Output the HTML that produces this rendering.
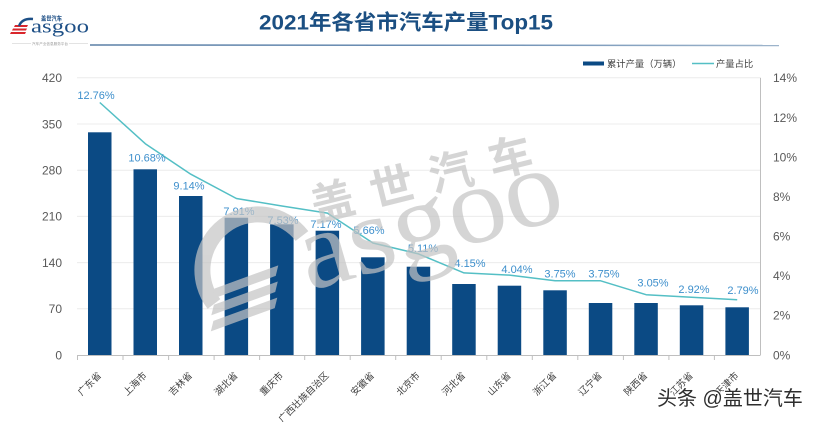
<!DOCTYPE html>
<html><head><meta charset="utf-8">
<style>
html,body{margin:0;padding:0;background:#fff;}
svg{display:block;font-family:"Liberation Sans","Noto Sans CJK SC",sans-serif;}
</style></head>
<body>
<svg width="820" height="422" viewBox="0 0 820 422" xmlns="http://www.w3.org/2000/svg">
<defs>
<linearGradient id="tl" x1="0" x2="1" y1="0" y2="0">
<stop offset="0" stop-color="#5a7fa6"/>
<stop offset="0.5" stop-color="#6a8db3"/>
<stop offset="1" stop-color="#9db4cb"/>
</linearGradient>
</defs>
<rect width="820" height="422" fill="#fff"/>

<!-- logo -->
<g>
<polygon points="15,25 28,25 27,27 14,27" fill="#d9262c"/>
<polygon points="13,28.5 27,28.5 26,30.5 12,30.5" fill="#d9262c"/>
<polygon points="11,32 26,32 25,34 10,34" fill="#d9262c"/>
<path d="M19,26 Q22,18 33,19" fill="none" stroke="#1d4f86" stroke-width="2.4"/>
<text x="41" y="20.5" font-size="6.5" font-weight="bold" fill="#1d4f86" textLength="21" lengthAdjust="spacingAndGlyphs">盖世汽车</text>
<text x="31" y="32.5" font-family="Liberation Serif, serif" font-size="19" fill="#1d4f86" textLength="58" lengthAdjust="spacingAndGlyphs">asgoo</text>
<line x1="12" y1="43.5" x2="88" y2="43.5" stroke="#c8c8c8" stroke-width="0.6"/>
<rect x="31" y="41.5" width="38" height="4" fill="#fff"/>
<text x="32" y="45" font-size="3.6" fill="#999" textLength="36" lengthAdjust="spacingAndGlyphs">汽车产业信息服务平台</text>
</g>

<!-- title -->
<text x="406" y="29.5" text-anchor="middle" font-size="21" font-weight="bold" fill="#1b4f82" textLength="294" lengthAdjust="spacingAndGlyphs">2021年各省市汽车产量Top15</text>
<line x1="90" y1="45" x2="779" y2="45.5" stroke="url(#tl)" stroke-width="1.5"/>

<!-- legend -->
<rect x="583" y="61.5" width="21" height="4" fill="#0b4a84"/>
<text x="607" y="67" font-size="9.3" fill="#404040">累计产量（万辆）</text>
<line x1="692" y1="63.5" x2="714" y2="63.5" stroke="#54bfc5" stroke-width="1.5"/>
<text x="716" y="67" font-size="9.3" fill="#404040">产量占比</text>

<!-- gridlines -->
<g stroke="#ececec" stroke-width="1">
<line x1="77" y1="77.8" x2="760" y2="77.8"/>
<line x1="77" y1="124" x2="760" y2="124"/>
<line x1="77" y1="170.2" x2="760" y2="170.2"/>
<line x1="77" y1="216.4" x2="760" y2="216.4"/>
<line x1="77" y1="262.6" x2="760" y2="262.6"/>
<line x1="77" y1="308.8" x2="760" y2="308.8"/>
</g>

<!-- left axis labels -->
<g font-size="12" fill="#595959" text-anchor="end">
<text x="62" y="82">420</text>
<text x="62" y="128.5">350</text>
<text x="62" y="174.5">280</text>
<text x="62" y="220.5">210</text>
<text x="62" y="267">140</text>
<text x="62" y="313">70</text>
<text x="62" y="359.5">0</text>
</g>
<!-- right axis labels -->
<g font-size="12" fill="#595959">
<text x="773" y="82">14%</text>
<text x="773" y="122">12%</text>
<text x="773" y="161.5">10%</text>
<text x="773" y="201">8%</text>
<text x="773" y="240.5">6%</text>
<text x="773" y="280">4%</text>
<text x="773" y="319.5">2%</text>
<text x="773" y="359.5">0%</text>
</g>

<!-- bars -->
<g fill="#0b4a84">
<rect x="88.0" y="132.3" width="23.5" height="222.7"/>
<rect x="133.5" y="169.3" width="23.5" height="185.7"/>
<rect x="179.0" y="196" width="23.5" height="159"/>
<rect x="224.6" y="217.7" width="23.5" height="137.3"/>
<rect x="270.1" y="224.3" width="23.5" height="130.7"/>
<rect x="315.6" y="230.7" width="23.5" height="124.3"/>
<rect x="361.1" y="257.3" width="23.5" height="97.7"/>
<rect x="406.7" y="266.7" width="23.5" height="88.3"/>
<rect x="452.2" y="284" width="23.5" height="71"/>
<rect x="497.7" y="285.7" width="23.5" height="69.3"/>
<rect x="543.3" y="290.3" width="23.5" height="64.7"/>
<rect x="588.8" y="303" width="23.5" height="52"/>
<rect x="634.3" y="303" width="23.5" height="52"/>
<rect x="679.8" y="305.3" width="23.5" height="49.7"/>
<rect x="725.4" y="307.3" width="23.5" height="47.7"/>
</g>

<!-- axes -->
<line x1="77" y1="355.5" x2="760" y2="355.5" stroke="#bfbfbf" stroke-width="1"/>
<line x1="760.5" y1="77.8" x2="760.5" y2="355.5" stroke="#bfbfbf" stroke-width="1"/>
<g stroke="#bfbfbf" stroke-width="1">
<line x1="77.5" y1="355" x2="77.5" y2="360"/>
<line x1="123" y1="355" x2="123" y2="360"/>
<line x1="168.6" y1="355" x2="168.6" y2="360"/>
<line x1="214.1" y1="355" x2="214.1" y2="360"/>
<line x1="259.6" y1="355" x2="259.6" y2="360"/>
<line x1="304.7" y1="355" x2="304.7" y2="360"/>
<line x1="350.2" y1="355" x2="350.2" y2="360"/>
<line x1="395.7" y1="355" x2="395.7" y2="360"/>
<line x1="441.2" y1="355" x2="441.2" y2="360"/>
<line x1="486.8" y1="355" x2="486.8" y2="360"/>
<line x1="532.3" y1="355" x2="532.3" y2="360"/>
<line x1="577.8" y1="355" x2="577.8" y2="360"/>
<line x1="623.4" y1="355" x2="623.4" y2="360"/>
<line x1="668.9" y1="355" x2="668.9" y2="360"/>
<line x1="714.4" y1="355" x2="714.4" y2="360"/>
</g>

<!-- line series -->
<polyline fill="none" stroke="#54bfc5" stroke-width="1.5" stroke-linejoin="round"
points="99.8,102.5 145.3,143.7 190.8,174.2 236.4,198.5 281.9,206.0 327.4,213.1 372.9,243.0 418.5,253.9 464.0,272.9 509.5,275.1 555.1,280.8 600.6,280.8 646.1,294.7 691.6,297.2 737.2,299.8"/>

<!-- data labels -->
<g font-size="11" fill="#3d8fcc" text-anchor="middle">
<text x="96" y="99">12.76%</text>
<text x="147" y="161.5">10.68%</text>
<text x="189" y="189.5">9.14%</text>
<text x="239" y="215">7.91%</text>
<text x="283" y="224">7.53%</text>
<text x="326" y="228">7.17%</text>
<text x="369" y="234">5.66%</text>
<text x="423" y="252">5.11%</text>
<text x="470" y="267">4.15%</text>
<text x="517" y="273">4.04%</text>
<text x="560" y="277.5">3.75%</text>
<text x="604" y="277.5">3.75%</text>
<text x="653" y="286.5">3.05%</text>
<text x="694" y="293">2.92%</text>
<text x="743" y="294">2.79%</text>
</g>

<!-- x labels -->
<g font-size="9.5" fill="#404040" text-anchor="end">
<text transform="translate(101.8,376) rotate(-45)">广东省</text>
<text transform="translate(147.3,376) rotate(-45)">上海市</text>
<text transform="translate(192.8,376) rotate(-45)">吉林省</text>
<text transform="translate(238.4,376) rotate(-45)">湖北省</text>
<text transform="translate(283.9,376) rotate(-45)">重庆市</text>
<text transform="translate(329.4,376) rotate(-45)">广西壮族自治区</text>
<text transform="translate(374.9,376) rotate(-45)">安徽省</text>
<text transform="translate(420.5,376) rotate(-45)">北京市</text>
<text transform="translate(466.0,376) rotate(-45)">河北省</text>
<text transform="translate(511.5,376) rotate(-45)">山东省</text>
<text transform="translate(557.1,376) rotate(-45)">浙江省</text>
<text transform="translate(602.6,376) rotate(-45)">辽宁省</text>
<text transform="translate(648.1,376) rotate(-45)">陕西省</text>
<text transform="translate(693.6,376) rotate(-45)">江苏省</text>
<text transform="translate(739.2,376) rotate(-45)">天津市</text>
</g>

<!-- watermark -->
<g fill="#c4c4c4" opacity="0.7">
<text transform="translate(315,222) rotate(-14)" font-size="44" font-weight="bold" letter-spacing="17">盖世汽车</text>
<text transform="translate(309,291) rotate(-16)" font-family="Liberation Serif, serif" font-size="110" textLength="270" lengthAdjust="spacingAndGlyphs">asgoo</text>
<path d="M302,236 A52,52 0 0 0 214,304" fill="none" stroke="#c4c4c4" stroke-width="16"/>
<g transform="translate(205,292) rotate(-20)">
<polygon points="10,0 78,0 72,9 4,9"/>
<polygon points="4,15 72,15 66,24 -2,24"/>
<polygon points="-2,30 66,30 60,39 -8,39"/>
</g>
</g>

<!-- bottom-right watermark -->
<text x="657" y="405" font-size="20" fill="#2e2e2e" stroke="#ffffff" stroke-width="2" paint-order="stroke">头条 @盖世汽车</text>
</svg>
</body></html>
